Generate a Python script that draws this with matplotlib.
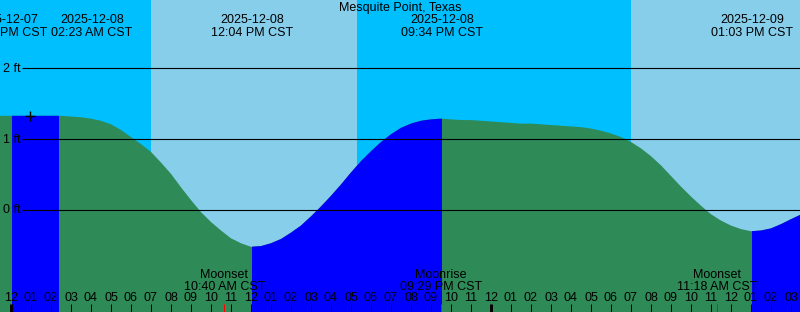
import matplotlib
matplotlib.use('Agg')
import matplotlib.pyplot as plt
import matplotlib.patches as mpatches
import matplotlib.transforms as mtransforms

plt.rcParams['font.family'] = ['Liberation Sans', 'DejaVu Sans']

STATION = 'Mesquite Point, Texas'

# hours after midnight 2025-12-08 CST, water level in ft (read every 30 min)
hours = [-0.55, -0.5, 0, 0.5, 1, 1.5, 2, 2.5, 3, 3.5, 4, 4.5, 5, 5.5, 6, 6.5,
         7, 7.5, 8, 8.5, 9, 9.5, 10, 10.5, 11, 11.5, 12, 12.5, 13, 13.5, 14,
         14.5, 15, 15.5, 16, 16.5, 17, 17.5, 18, 18.5, 19, 19.5, 20, 20.5, 21,
         21.5, 22, 22.5, 23, 23.5, 24, 24.5, 25, 25.5, 26, 26.5, 27, 27.5, 28,
         28.5, 29, 29.5, 30, 30.5, 31, 31.5, 32, 32.5, 33, 33.5, 34, 34.5, 35,
         35.5, 36, 36.5, 37, 37.5, 38, 38.5, 39, 39.45]
level_ft = [1.33, 1.33, 1.33, 1.33, 1.33, 1.33, 1.33, 1.33, 1.32, 1.31, 1.29,
            1.26, 1.21, 1.13, 1.03, 0.93, 0.82, 0.67, 0.51, 0.32, 0.14, -0.03,
            -0.17, -0.29, -0.40, -0.47, -0.52, -0.51, -0.47, -0.41, -0.32,
            -0.22, -0.09, 0.05, 0.20, 0.36, 0.53, 0.69, 0.83, 0.96, 1.07, 1.16,
            1.22, 1.26, 1.28, 1.29, 1.28, 1.27, 1.27, 1.26, 1.25, 1.24, 1.23,
            1.22, 1.22, 1.21, 1.20, 1.19, 1.18, 1.17, 1.15, 1.12, 1.08, 1.03,
            0.96, 0.87, 0.76, 0.63, 0.48, 0.33, 0.19, 0.06, -0.06, -0.15,
            -0.22, -0.27, -0.30, -0.29, -0.26, -0.20, -0.13, -0.07]

# high / low tide events
event_hours = [-0.22, 2.38, 12.07, 21.57, 37.05]
event_dates = ['2025-12-07', '2025-12-08', '2025-12-08', '2025-12-08',
               '2025-12-09']
event_times = ['11:47 PM CST', '02:23 AM CST', '12:04 PM CST', '09:34 PM CST',
               '01:03 PM CST']

# rising tide spans
flood_start = [0.05, 12.07, 37.05]
flood_end = [2.38, 21.57, 39.45]

sunrise = [7.0, 31.0]
sunset = [17.3]

moon_hours = [10.67, 21.48, 35.30]
moon_names = ['Moonset', 'Moonrise', 'Moonset']
moon_times = ['10:40 AM CST', '09:29 PM CST', '11:18 AM CST']

now_hour = 0.95
now_level = 1.33

grid_ft = [0, 1, 2]

NIGHT = '#00BFFF'
DAY = '#87CEEB'
WATER = '#2E8B57'
FLOOD = '#0000FF'
FONT = 9
W, H = 800, 312

fig = plt.figure(figsize=(W / 100, H / 100), dpi=100)
ax = fig.add_axes([0, 0, 1, 1])
ax.set_axis_off()
x0, x1 = -0.55, 39.45
y0, y1 = -1.441, 2.966
ax.set_xlim(x0, x1)
ax.set_ylim(y0, y1)

# x in data, y in pixels from the top
bt = mtransforms.blended_transform_factory(ax.transData, fig.transFigure)


def ypix(y):
    return 1 - y / H


# day / night background
for s, e in zip([x0] + sunset, sunrise):
    ax.axvspan(s, e, color=NIGHT, lw=0)
for s, e in zip(sunrise, sunset + [x1]):
    ax.axvspan(s, e, color=DAY, lw=0)

# water
verts = list(zip(hours, level_ft)) + [(hours[-1], y0), (hours[0], y0)]
water = mpatches.Polygon(verts, closed=True, color=WATER, lw=0)
ax.add_patch(water)
for s, e in zip(flood_start, flood_end):
    span = ax.axvspan(s, e, color=FLOOD, lw=0)
    span.set_clip_path(water)

# level lines, starting just right of their labels
ax.hlines(grid_ft, x0 + 1.1, x1, color='black', lw=0.8)
for g in grid_ft:
    ax.annotate(f'{g} ft', (x0, g), xytext=(2.5, -3.4),
                textcoords='offset pixels', fontsize=FONT, va='baseline')

ax.plot(now_hour, now_level, marker='+', color='black', ms=7, mew=1)

fig.text(0.5, ypix(11), STATION, ha='center', va='baseline', fontsize=FONT)

# high / low labels, pushed right when they would overlap
fig.canvas.draw()
renderer = fig.canvas.get_renderer()
px_per_hour = ax.transData.transform((1, 0))[0] - ax.transData.transform((0, 0))[0]
prev_right = None
for h, d, t in zip(event_hours, event_dates, event_times):
    a = ax.text(h, ypix(23.3), d, transform=bt, ha='center', va='baseline',
                fontsize=FONT)
    b = ax.text(h, ypix(36), t, transform=bt, ha='center', va='baseline',
                fontsize=FONT)
    boxes = [a.get_window_extent(renderer), b.get_window_extent(renderer)]
    left = min(bb.x0 for bb in boxes)
    right = max(bb.x1 for bb in boxes)
    if prev_right is not None and left < prev_right + 4:
        shift = (prev_right + 4 - left) / px_per_hour
        a.set_x(h + shift)
        b.set_x(h + shift)
        right += shift * px_per_hour
    prev_right = right

# hour ticks along the bottom, thick at midnight
for h in range(0, 40):
    ax.text(h, ypix(301), f'{(h % 12) or 12:02d}', transform=bt, ha='center',
            va='baseline', fontsize=FONT)
    lw = 3 if h % 24 == 0 else 1
    ax.vlines(h, ypix(H), ypix(304), transform=bt, color='black', lw=lw * 0.72)

for h, n, t in zip(moon_hours, moon_names, moon_times):
    ax.vlines(h, ypix(H), ypix(304), transform=bt, color='red', lw=0.72)
    ax.text(h, ypix(277.7), n, transform=bt, ha='center', va='baseline',
            fontsize=FONT)
    ax.text(h, ypix(289.7), t, transform=bt, ha='center', va='baseline',
            fontsize=FONT)

fig.savefig('out.png', dpi=100)
